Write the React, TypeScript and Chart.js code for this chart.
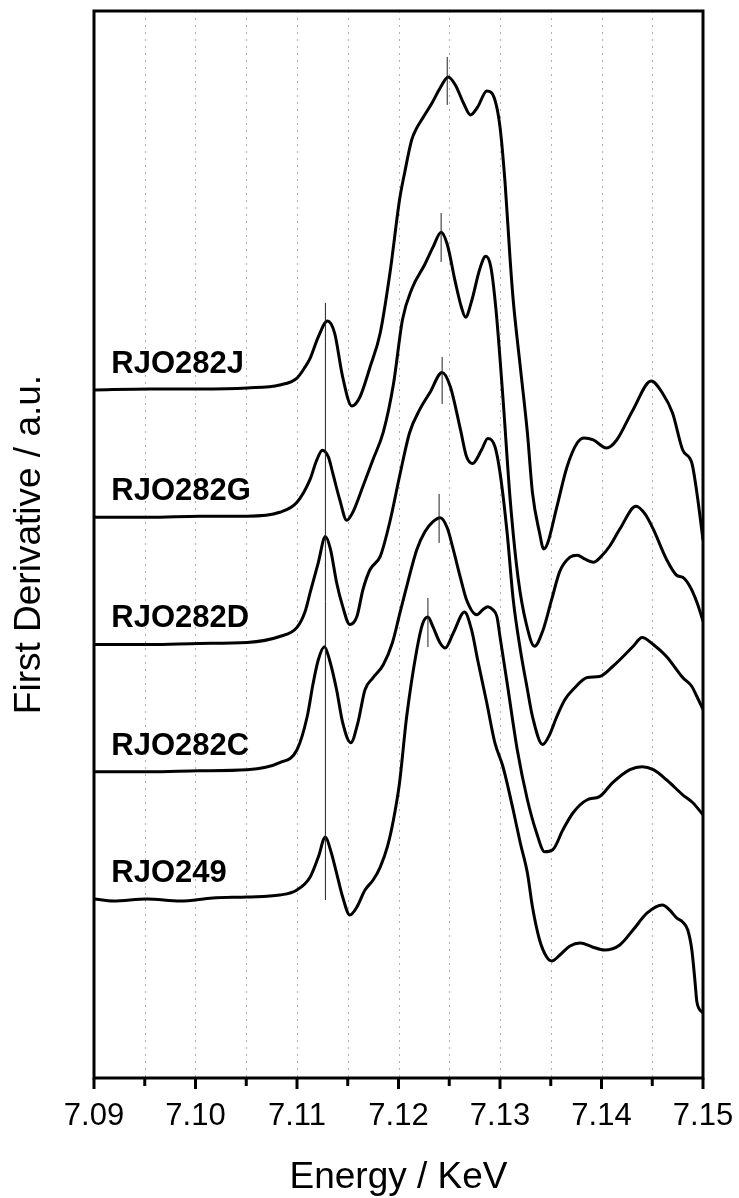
import React, { useEffect, useRef } from "react";
import { Chart, registerables } from "chart.js";

Chart.register(...registerables);

// ---------------- data ----------------
const SERIES_NAMES = ["RJO282J", "RJO282G", "RJO282D", "RJO282C", "RJO249"];
const SERIES_OFFSETS = [4, 3, 2, 1, 0];

// [energy (keV), first derivative (a.u.), relative to each spectrum's own baseline]
const rjo282J: [number, number][] = [
  [7.09, 0], [7.0955, 0.008], [7.1004, 0.008], [7.1051, 0.016], [7.1083, 0.039], [7.11, 0.094],
  [7.1108, 0.181], [7.1113, 0.251], [7.1121, 0.417], [7.113, 0.542], [7.1137, 0.448], [7.1145, 0.102],
  [7.1154, -0.126], [7.1162, -0.055], [7.1172, 0.181], [7.1182, 0.448], [7.1192, 0.943], [7.1201, 1.493],
  [7.1206, 1.705], [7.1213, 1.965], [7.1218, 2.059], [7.1224, 2.138], [7.1233, 2.255], [7.1241, 2.373],
  [7.1249, 2.46], [7.1256, 2.397], [7.1264, 2.255], [7.1271, 2.161], [7.1278, 2.224], [7.1287, 2.35],
  [7.1295, 2.279], [7.13, 2.067], [7.1305, 1.627], [7.131, 1.022], [7.1313, 0.707], [7.132, 0.181],
  [7.1327, -0.338], [7.1332, -0.809], [7.1339, -1.124], [7.1343, -1.249], [7.1347, -1.202], [7.1356, -0.919],
  [7.1366, -0.605], [7.1376, -0.417], [7.1383, -0.377], [7.1392, -0.393], [7.1405, -0.456], [7.1415, -0.393],
  [7.1431, -0.157], [7.1449, 0.071], [7.146, -0.024], [7.147, -0.181], [7.148, -0.472], [7.1489, -0.574],
  [7.1494, -0.809], [7.15, -1.179],
];

const rjo282G: [number, number][] = [
  [7.09, 0], [7.0955, 0], [7.1004, 0.008], [7.1051, 0.008], [7.1083, 0.039], [7.11, 0.118],
  [7.1113, 0.299], [7.1119, 0.44], [7.1125, 0.527], [7.1131, 0.472], [7.1135, 0.354], [7.1142, 0.141],
  [7.1149, -0.024], [7.1155, 0.039], [7.1165, 0.244], [7.1175, 0.456], [7.1185, 0.668], [7.1195, 1.045],
  [7.1204, 1.556], [7.1213, 1.792], [7.1226, 1.988], [7.1234, 2.122], [7.1242, 2.24], [7.1248, 2.145],
  [7.1256, 1.847], [7.1262, 1.65], [7.1266, 1.572], [7.1272, 1.697], [7.128, 1.949], [7.1286, 2.051],
  [7.1291, 1.965], [7.1296, 1.635], [7.1303, 0.927], [7.131, 0.141], [7.1318, -0.487], [7.1326, -0.841],
  [7.1334, -1.014], [7.1342, -0.896], [7.1351, -0.644], [7.1359, -0.424], [7.1369, -0.314], [7.1376, -0.299],
  [7.1384, -0.33], [7.1392, -0.354], [7.1399, -0.314], [7.1408, -0.228], [7.1418, -0.094], [7.1434, 0.086],
  [7.1443, 0.024], [7.1451, -0.094], [7.1464, -0.33], [7.1474, -0.456], [7.148, -0.472], [7.1487, -0.542],
  [7.1494, -0.668], [7.15, -0.817],
];

const rjo282D: [number, number][] = [
  [7.09, 0], [7.0955, 0], [7.1004, 0.008], [7.1051, 0.016], [7.1083, 0.063], [7.11, 0.134],
  [7.1108, 0.259], [7.1113, 0.409], [7.1121, 0.644], [7.1128, 0.849], [7.1133, 0.747], [7.1139, 0.487],
  [7.1145, 0.299], [7.1152, 0.157], [7.1159, 0.22], [7.1165, 0.432], [7.1172, 0.589], [7.1182, 0.692],
  [7.1192, 0.982], [7.1201, 1.32], [7.1211, 1.666], [7.1221, 1.847], [7.1231, 1.98], [7.1243, 2.138],
  [7.1251, 2.028], [7.1261, 1.69], [7.1267, 1.477], [7.1273, 1.422], [7.1282, 1.532], [7.1288, 1.619],
  [7.1295, 1.556], [7.13, 1.352], [7.1307, 0.88], [7.1313, 0.354], [7.132, -0.039], [7.1327, -0.354],
  [7.1332, -0.566], [7.1342, -0.786], [7.1349, -0.707], [7.1356, -0.566], [7.1364, -0.432], [7.1372, -0.354],
  [7.1386, -0.259], [7.1398, -0.251], [7.1411, -0.173], [7.1431, -0.016], [7.144, 0.055], [7.1451, 0],
  [7.1464, -0.094], [7.148, -0.259], [7.1489, -0.33], [7.1494, -0.409], [7.15, -0.511],
];

const rjo282C: [number, number][] = [
  [7.09, 0], [7.0955, 0], [7.1004, 0.008], [7.1051, 0.016], [7.1083, 0.071], [7.11, 0.173],
  [7.111, 0.432], [7.1116, 0.699], [7.1121, 0.88], [7.1127, 0.982], [7.1132, 0.88], [7.1139, 0.644],
  [7.1145, 0.385], [7.1153, 0.228], [7.116, 0.385], [7.1167, 0.644], [7.1175, 0.739], [7.1185, 0.841],
  [7.1194, 1.014], [7.1201, 1.234], [7.1209, 1.485], [7.1218, 1.745], [7.1226, 1.886], [7.1234, 1.965],
  [7.1241, 1.996], [7.1248, 1.917], [7.1254, 1.745], [7.1261, 1.525], [7.1267, 1.352], [7.1277, 1.234],
  [7.1283, 1.273], [7.1288, 1.297], [7.1293, 1.273], [7.1297, 1.218], [7.13, 1.061], [7.1307, 0.699],
  [7.1317, 0.173], [7.1327, -0.22], [7.1336, -0.479], [7.1344, -0.629], [7.1352, -0.613], [7.1362, -0.456],
  [7.1372, -0.322], [7.1386, -0.22], [7.1398, -0.196], [7.1411, -0.086], [7.1428, 0.016], [7.144, 0.039],
  [7.1451, 0.016], [7.1464, -0.063], [7.148, -0.181], [7.149, -0.244], [7.15, -0.338],
];

const rjo249: [number, number][] = [
  [7.09, 0], [7.0919, -0.016], [7.0952, 0], [7.0985, -0.016], [7.1017, 0.008], [7.1051, 0.016],
  [7.1083, 0.031], [7.11, 0.071], [7.1113, 0.173], [7.1121, 0.33], [7.1128, 0.487], [7.1133, 0.385],
  [7.1139, 0.204], [7.1145, 0.016], [7.1152, -0.126], [7.1159, -0.063], [7.1167, 0.071], [7.1175, 0.149],
  [7.1182, 0.251], [7.1189, 0.409], [7.1195, 0.621], [7.1201, 0.912], [7.1208, 1.43], [7.1218, 1.957],
  [7.1224, 2.169], [7.1229, 2.216], [7.1234, 2.138], [7.1241, 2.012], [7.1246, 1.972], [7.1254, 2.09],
  [7.1265, 2.255], [7.1272, 2.114], [7.1278, 1.878], [7.1287, 1.54], [7.1295, 1.226], [7.1303, 1.037],
  [7.1313, 0.699], [7.132, 0.44], [7.1327, 0.204], [7.1332, -0.063], [7.1339, -0.322], [7.1346, -0.456],
  [7.1351, -0.487], [7.1359, -0.44], [7.1369, -0.369], [7.1379, -0.346], [7.1391, -0.377], [7.1403, -0.401],
  [7.1418, -0.361], [7.1431, -0.244], [7.1445, -0.11], [7.146, -0.047], [7.1467, -0.086], [7.1474, -0.149],
  [7.148, -0.181], [7.1485, -0.244], [7.1489, -0.401], [7.1492, -0.637], [7.1494, -0.809], [7.15, -0.896],
];

const SERIES_DATA = [rjo282J, rjo282G, rjo282D, rjo282C, rjo249];

// vertical reference marks (energy, top, bottom in stacked a.u.)
const MARKER_ENERGY = [7.1128, 7.1248, 7.1242, 7.1243, 7.124, 7.1229];
const MARKER_TOP = [4.684, 6.617, 5.391, 4.259, 3.183, 2.365];
const MARKER_BOTTOM = [-0.008, 6.24, 5.006, 3.89, 2.798, 1.98];

// axes
const X_MIN = 7.09;
const X_MAX = 7.15;
const X_STEP = 0.005;
const Y_MIN = -1.4067;
const Y_MAX = 6.978;

// ---------------- styling / layout ----------------
const FONT = '"Liberation Sans", Arial, Helvetica, sans-serif';
const LABEL_ENERGY = 7.0917;
const LABEL_RISE = 0.134;

const isMajor = (v: number) => Math.abs(v * 100 - Math.round(v * 100)) < 1e-6;

const decorPlugin = {
  id: "decor",
  beforeDatasetsDraw(chart: any) {
    const { ctx, chartArea: a, scales } = chart;
    const x = scales.x;
    ctx.save();
    ctx.strokeStyle = "#b0b0b0";
    ctx.lineWidth = 1;
    ctx.setLineDash([2, 5]);
    x.ticks.forEach((t: any) => {
      if (t.value <= X_MIN + 1e-9 || t.value >= X_MAX - 1e-9) return;
      const px = Math.round(x.getPixelForValue(t.value)) + 0.5;
      ctx.beginPath();
      ctx.moveTo(px, a.top);
      ctx.lineTo(px, a.bottom);
      ctx.stroke();
    });
    ctx.restore();
  },
  afterDatasetsDraw(chart: any) {
    const { ctx, chartArea: a, scales } = chart;
    const x = scales.x;
    const y = scales.y;
    ctx.save();
    ctx.setLineDash([]);
    ctx.strokeStyle = "#000";
    ctx.lineWidth = 3;
    ctx.strokeRect(a.left, a.top, a.right - a.left, a.bottom - a.top);
    x.ticks.forEach((t: any) => {
      const px = x.getPixelForValue(t.value);
      ctx.beginPath();
      ctx.moveTo(px, a.bottom);
      ctx.lineTo(px, a.bottom + (isMajor(t.value) ? 11 : 8));
      ctx.stroke();
    });
    ctx.fillStyle = "#000";
    ctx.font = `bold 31px ${FONT}`;
    ctx.textAlign = "left";
    ctx.textBaseline = "alphabetic";
    SERIES_NAMES.forEach((name, i) => {
      ctx.fillText(
        name,
        x.getPixelForValue(LABEL_ENERGY),
        y.getPixelForValue(SERIES_OFFSETS[i] + LABEL_RISE)
      );
    });
    ctx.restore();
  },
};

export default function App() {
  const canvasRef = useRef<HTMLCanvasElement | null>(null);

  useEffect(() => {
    if (!canvasRef.current) return;
    Chart.defaults.font.family = FONT;
    Chart.defaults.color = "#000";

    const curveSets = SERIES_DATA.map((series, i) => ({
      label: SERIES_NAMES[i],
      data: series.map(([e, v]) => ({ x: e, y: v + SERIES_OFFSETS[i] })),
      borderColor: "#000",
      borderWidth: 3,
      pointRadius: 0,
      fill: false,
      cubicInterpolationMode: "monotone" as const,
    }));

    const markerSets = MARKER_ENERGY.map((e, i) => ({
      label: "marker" + i,
      data: [
        { x: e, y: MARKER_BOTTOM[i] },
        { x: e, y: MARKER_TOP[i] },
      ],
      borderColor: "#222",
      borderWidth: 1,
      pointRadius: 0,
      fill: false,
      tension: 0,
    }));

    const chart = new Chart(canvasRef.current, {
      type: "line",
      data: { datasets: [...markerSets, ...curveSets] as any },
      options: {
        animation: false,
        responsive: false,
        devicePixelRatio: 1,
        layout: { padding: { top: 11, right: 36, left: 0, bottom: 0 } },
        plugins: {
          legend: { display: false },
          tooltip: { enabled: false },
        },
        scales: {
          x: {
            type: "linear",
            position: "bottom",
            min: X_MIN,
            max: X_MAX,
            grid: { display: false, drawTicks: false },
            border: { display: false },
            ticks: {
              stepSize: X_STEP,
              autoSkip: false,
              maxRotation: 0,
              minRotation: 0,
              padding: 23,
              color: "#000",
              font: { size: 31, lineHeight: 1 },
              callback: (v: any) => (isMajor(Number(v)) ? Number(v).toFixed(2) : ""),
            },
            title: {
              display: true,
              text: "Energy / KeV",
              color: "#000",
              font: { size: 37, lineHeight: 1 },
              padding: { top: 0, bottom: 2 },
            },
            afterFit: (s: any) => {
              s.height = 120;
              s.paddingLeft = 0;
              s.paddingRight = 0;
            },
          },
          y: {
            type: "linear",
            min: Y_MIN,
            max: Y_MAX,
            grid: { display: false, drawTicks: false },
            border: { display: false },
            ticks: { display: false },
            title: {
              display: true,
              text: "First Derivative / a.u.",
              color: "#000",
              font: { size: 37, lineHeight: 1 },
              padding: { top: 11, bottom: 0 },
            },
            afterFit: (s: any) => {
              s.width = 94;
            },
          },
        },
      },
      plugins: [decorPlugin],
    });

    return () => chart.destroy();
  }, []);

  return (
    <div style={{ position: "absolute", left: 0, top: 0, width: 739, height: 1198, background: "#fff" }}>
      <canvas ref={canvasRef} width={739} height={1198} style={{ display: "block" }} />
    </div>
  );
}
